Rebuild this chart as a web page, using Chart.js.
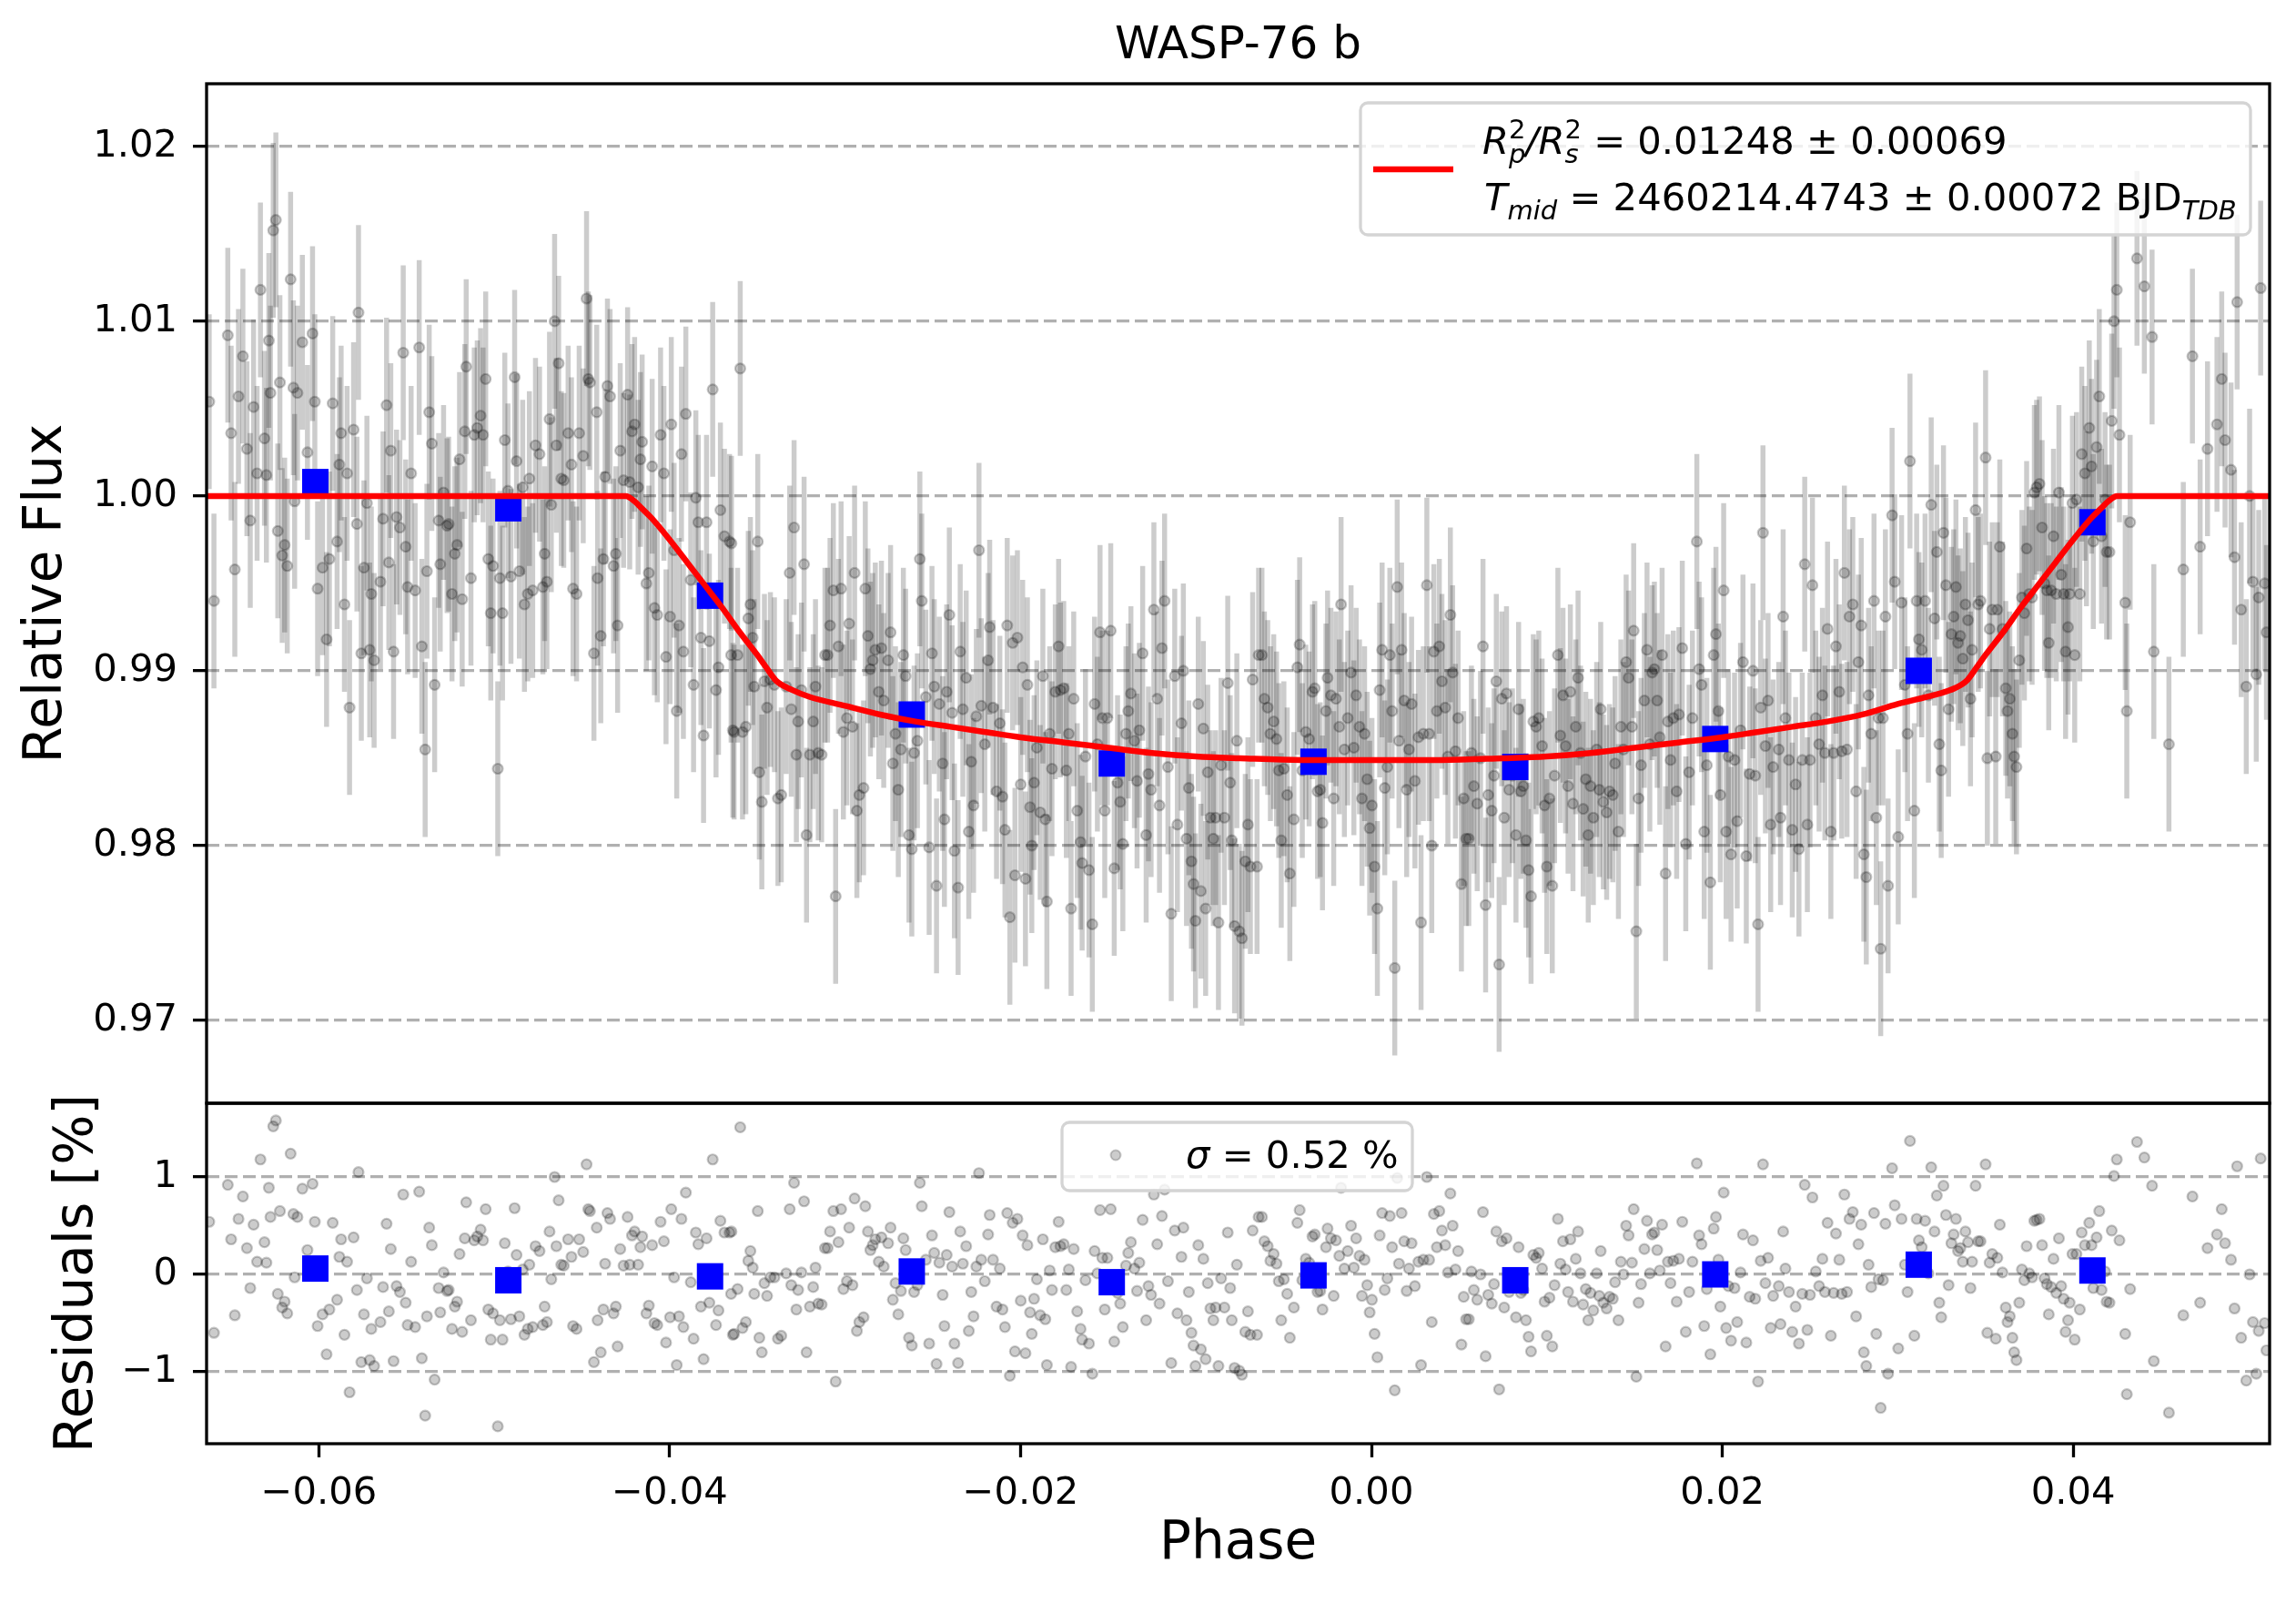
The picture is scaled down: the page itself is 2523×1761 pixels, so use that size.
<!DOCTYPE html>
<html>
<head>
<meta charset="utf-8">
<title>WASP-76 b</title>
<script src="https://cdn.jsdelivr.net/npm/chart.js@4.4.1/dist/chart.umd.min.js"></script>
<style>
  html, body { margin: 0; padding: 0; background: #fff; }
  #wrap { position: relative; width: 2523px; height: 1761px; }
  canvas { position: absolute; left: 0; }
  #top { top: 0; width: 2523px; height: 1230px; }
  #bottom { top: 1190px; width: 2523px; height: 571px; }
</style>
</head>
<body>
<div id="wrap">
  <canvas id="top" width="2523" height="1230"></canvas>
  <canvas id="bottom" width="2523" height="571"></canvas>
</div>
<script>
// Light curve values (phase, relative flux, residual in %)
const phase = [
  -0.06625,-0.06598,-0.06519,-0.0650,-0.06479,-0.06458,-0.06433,-0.0641,-0.06391,-0.06372,
  -0.06352,-0.06333,-0.0631,-0.06299,-0.06285,-0.06276,-0.0626,-0.06245,-0.06234,-0.06222,
  -0.06209,-0.06195,-0.0618,-0.06161,-0.06145,-0.06138,-0.06122,-0.06094,-0.06065,-0.06036,
  -0.06023,-0.06007,-0.05979,-0.05956,-0.0594,-0.05921,-0.05896,-0.05883,-0.05873,-0.05854,
  -0.05839,-0.05825,-0.05802,-0.05783,-0.05774,-0.05758,-0.05743,-0.05726,-0.0571,-0.05701,
  -0.05685,-0.05649,-0.05634,-0.05614,-0.05601,-0.0559,-0.05574,-0.05557,-0.05538,-0.05519,
  -0.05505,-0.05494,-0.05474,-0.05451,-0.05428,-0.05413,-0.05394,-0.05384,-0.05371,-0.05356,
  -0.0534,-0.05317,-0.05308,-0.05289,-0.05269,-0.0526,-0.05241,-0.05225,-0.05212,-0.05198,
  -0.05183,-0.05168,-0.0516,-0.05133,-0.05114,-0.05097,-0.05078,-0.05064,-0.05049,-0.05034,
  -0.0502,-0.05007,-0.0498,-0.04968,-0.04953,-0.0494,-0.04922,-0.04905,-0.04884,-0.04873,
  -0.04857,-0.04838,-0.04828,-0.04809,-0.048,-0.04781,-0.04765,-0.04742,-0.04723,-0.04713,
  -0.047,-0.04685,-0.04675,-0.04656,-0.04646,-0.04633,-0.04618,-0.04604,-0.04579,-0.0456,
  -0.04551,-0.04531,-0.04516,-0.04493,-0.04474,-0.04464,-0.04455,-0.04432,-0.04416,-0.04411,
  -0.04393,-0.04378,-0.04368,-0.04355,-0.0434,-0.0432,-0.04307,-0.04297,-0.04282,-0.04263,
  -0.0424,-0.04228,-0.04215,-0.042,-0.0418,-0.04167,-0.04157,-0.04133,-0.04119,-0.041,
  -0.04087,-0.04071,-0.04052,-0.04033,-0.04021,-0.03998,-0.03991,-0.03975,-0.0396,-0.03947,
  -0.03933,-0.03922,-0.03908,-0.0388,-0.03864,-0.03851,-0.03837,-0.03822,-0.03807,-0.0379,
  -0.03774,-0.03755,-0.03736,-0.03722,-0.03711,-0.03688,-0.03659,-0.0365,-0.0364,
  -0.03648,-0.03633,-0.03613,-0.03598,-0.03585,-0.03566,-0.03552,-0.0354,-0.03527,-0.03518,
  -0.03498,-0.03489,-0.03475,-0.0346,-0.03445,-0.03426,-0.03403,-0.03383,-0.03364,-0.03336,
  -0.03316,-0.03307,-0.03291,-0.03278,-0.03268,-0.03249,-0.03234,-0.0322,-0.03201,-0.03182,
  -0.03169,-0.03153,-0.03134,-0.03115,-0.031,-0.03086,-0.03067,-0.03054,-0.03038,-0.03023,
  -0.0301,-0.0299,-0.02977,-0.02958,-0.02946,-0.02933,-0.02919,-0.02895,-0.02885,-0.0287,
  -0.02856,-0.02843,-0.02828,-0.02808,-0.02793,-0.0278,-0.02755,-0.02741,-0.02728,-0.02713,
  -0.02697,-0.02682,-0.02668,-0.02655,-0.02636,-0.0262,-0.02607,-0.02588,-0.02574,-0.02563,
  -0.0254,-0.02521,-0.02505,-0.02492,-0.02479,-0.02463,-0.02444,-0.02434,-0.02421,-0.02406,
  -0.0239,-0.02377,-0.02356,-0.02344,-0.02329,-0.0231,-0.02295,-0.02281,-0.02268,-0.02252,
  -0.02237,-0.02224,-0.02204,-0.02185,-0.02176,-0.02157,-0.02137,-0.02118,-0.02103,-0.02089,
  -0.02076,-0.02061,-0.02045,-0.02032,-0.02018,-0.01999,-0.01988,-0.01972,-0.01961,-0.01946,
  -0.01936,-0.01923,-0.01907,-0.01888,-0.01873,-0.01859,-0.0185,-0.01834,-0.01821,-0.01802,
  -0.01783,-0.01773,-0.01754,-0.01739,-0.01725,-0.01712,-0.01697,-0.01677,-0.01658,-0.01649,
  -0.0163,-0.0161,-0.01591,-0.01578,-0.01562,-0.01547,-0.01534,-0.0152,-0.01505,-0.01486,
  -0.01466,-0.01447,-0.01432,-0.01417,-0.01399,-0.01386,-0.01371,-0.01351,-0.01336,-0.01323,
  -0.01304,-0.01284,-0.01271,-0.01256,-0.0124,-0.01221,-0.01208,-0.01194,-0.01179,-0.0116,
  -0.01141,-0.01121,-0.01106,-0.01083,-0.01072,-0.01054,-0.01041,-0.01026,-0.01014,-0.01003,
  -0.00987,-0.00972,-0.00958,-0.00945,-0.00933,-0.00918,-0.00901,-0.00888,-0.00872,-0.00857,
  -0.00838,-0.00819,-0.00805,-0.00796,-0.0078,-0.00767,-0.00753,-0.00738,-0.00719,-0.00704,
  -0.0069,-0.00677,
  -0.00652,-0.00643,-0.00624,-0.0061,-0.00591,-0.00576,-0.00557,-0.00541,-0.00528,-0.00514,
  -0.00499,-0.0048,-0.00465,-0.00442,-0.00422,-0.00409,-0.00394,-0.00374,-0.00355,-0.00336,
  -0.00323,-0.00307,-0.00292,-0.00279,-0.00259,-0.0025,-0.00231,-0.00215,-0.00202,-0.00183,
  -0.00173,-0.00154,-0.00135,-0.00116,-0.0010,-0.00087,-0.00068,-0.00054,-0.00039,-0.00024,
  -0.0001,0.00003,0.00018,0.00034,0.00047,0.00061,0.00076,0.00091,0.00105,0.00118,
  0.00133,0.00147,0.00157,0.00172,0.00187,0.00201,0.00214,0.00229,0.00248,0.00268,
  0.00283,0.00296,0.00316,0.00329,0.00344,0.00356,0.00373,0.00387,0.00402,0.00421,
  0.00436,0.0045,0.00463,0.00479,0.00494,0.00513,0.00526,0.0054,0.00555,0.0057,
  0.00584,0.00603,0.00622,0.00636,0.00651,0.00666,0.00686,0.00699,0.00712,0.00728,
  0.00743,0.00757,0.0077,0.00785,0.00804,0.00824,0.00839,0.00852,0.00866,0.00881,
  0.00896,0.0091,0.00923,0.00939,0.00954,0.00973,0.00987,0.0100,0.01015,0.01031,
  0.01044,0.01063,0.01077,0.01092,0.01107,0.01121,0.01134,0.01149,0.01165,0.01178,
  0.01192,0.01207,0.01222,0.01236,0.01249,0.01265,0.01284,0.01299,0.01307,0.01322,
  0.01341,0.01357,0.01376,0.01389,0.01408,0.01422,0.01437,0.01452,0.01466,0.01485,
  0.01495,0.0151,0.01523,0.01537,0.01556,0.01571,0.01587,0.0160,0.01613,0.01629,
  0.01644,0.01657,0.01677,0.0169,0.01705,0.01721,0.0174,0.01753,0.01772,0.01792,
  0.01811,0.0183,0.01855,0.01868,0.01882,0.01897,0.01912,0.01932,0.01951,0.01964,
  0.01978,0.01989,0.02008,0.02022,0.02035,0.0205,0.0207,0.02085,0.02104,0.02118,
  0.02137,0.02156,0.02175,0.02188,0.02204,0.02219,0.02232,0.02246,0.02261,0.02276,
  0.0229,
  0.02322,0.02332,0.02347,0.0236,0.0238,0.02399,0.02418,0.02437,0.02456,0.0247,
  0.02485,0.025,0.02514,0.02533,0.02552,0.02571,0.02585,0.026,0.02619,0.02635,
  0.02648,0.02667,0.02681,0.02696,0.02711,0.02725,0.02744,0.02763,0.02776,0.02792,
  0.02807,0.02821,0.02834,0.02849,0.02865,0.02878,0.02891,0.02903,0.02916,0.0293,
  0.02945,0.02968,0.02983,0.03003,0.03022,0.03041,0.03056,0.0307,0.03095,0.03108,
  0.03121,0.03137,0.03156,0.03175,0.03191,0.0321,0.03223,0.03237,0.03248,0.03261,
  0.03275,0.0329,0.03306,0.03319,0.03332,0.03344,0.03357,0.03371,0.03386,0.03401,
  0.03415,0.03424,0.03444,0.03459,0.03472,0.03501,0.03511,0.03524,0.03539,0.03559,
  0.03568,0.03582,0.03597,0.03616,0.03626,0.03639,0.03654,0.03664,0.03677,0.03693,
  0.03708,0.03722,0.03735,0.0375,0.03766,0.03779,0.03792,0.03808,0.03823,0.03837,
  0.0385,0.03861,0.03875,0.03888,0.03904,0.03919,0.03932,0.03946,0.03957,0.03971,
  0.0398,0.03996,0.04009,0.04019,0.04038,0.04049,0.04067,0.04076,0.04092,0.04105,
  0.04115,0.04134,0.04149,0.04162,0.04182,0.04191,0.04207,0.0422,0.04233,0.04249,
  0.04264,0.04297,0.04306,0.04325,0.04364,0.04406,0.0445,0.0446,0.04546,0.04628,
  0.0468,0.04724,0.04766,0.0482,0.04847,0.04866,0.049,0.0492,0.04935,0.04958,
  0.04987,0.05006,0.05025,0.05044,0.05058,0.05069,0.05092,0.05102
];

const flux = [
  1.0054,0.9940,1.0092,1.0036,0.9958,1.0057,1.0080,1.0027,0.9986,1.0051,
  1.0013,1.0118,1.0033,1.0012,1.0089,1.0059,1.0152,1.0158,0.9980,1.0065,
  0.9966,0.9972,0.9960,1.0124,1.0062,0.9997,1.0059,1.0088,1.0025,1.0093,
  1.0054,0.9947,0.9959,0.9918,0.9964,1.0053,0.9974,1.0018,1.0036,0.9938,
  1.0013,0.9879,1.0038,0.9984,1.0105,0.9910,0.9959,0.9996,0.9912,0.9944,
  0.9906,0.9951,0.9987,1.0052,0.9962,1.0026,0.9911,0.9988,0.9982,1.0082,
  0.9971,0.9948,1.0013,0.9946,1.0085,0.9914,0.9855,0.9957,1.0048,1.0030,
  0.9892,0.9986,0.9961,1.0002,0.9983,0.9984,0.9944,0.9967,0.9972,1.0021,
  0.9941,1.0037,1.0074,0.9953,1.0035,1.0039,1.0046,1.0035,1.0067,0.9964,
  0.9933,0.9960,0.9844,0.9953,0.9933,1.0032,1.0003,0.9954,1.0068,1.0020,
  0.9957,1.0005,0.9938,0.9944,1.0010,0.9946,1.0029,1.0024,0.9948,0.9967,
  0.9951,1.0044,0.9995,1.0100,1.0029,1.0076,1.0010,1.0009,1.0036,1.0018,
  0.9947,0.9944,1.0036,1.0023,1.0113,1.0067,1.0065,0.9910,1.0048,0.9953,
  0.9920,0.9964,1.0011,1.0063,1.0057,0.9960,0.9967,0.9926,1.0026,1.0009,
  1.0058,1.0008,1.0037,1.0041,1.0005,1.0021,1.0031,0.9950,0.9956,1.0017,
  0.9936,0.9932,1.0035,1.0013,0.9908,0.9931,1.0041,0.9969,0.9877,0.9926,
  1.0024,0.9911,1.0047,0.9952,0.9892,0.9999,0.9985,0.9919,0.9863,0.9985,
  0.9917,1.0061,0.9889,0.9902,0.9992,0.9977,0.9974,0.9909,0.9866,
  0.9973,0.9865,0.9909,1.0073,0.9865,0.9868,0.9930,0.9938,0.9919,0.9891,
  0.9974,0.9842,0.9825,0.9894,0.9879,0.9895,0.9892,0.9827,0.9829,0.9891,
  0.9956,0.9878,0.9982,0.9852,0.9871,0.9889,0.9961,0.9806,0.9852,0.9871,
  0.9891,0.9853,0.9852,0.9909,0.9909,0.9926,0.9946,0.9771,0.9914,0.9947,
  0.9865,0.9873,0.9927,0.9868,0.9956,0.9820,0.9829,0.9833,0.9947,0.9920,
  0.9901,0.9906,0.9912,0.9888,0.9913,0.9883,0.9906,0.9922,0.9847,0.9864,
  0.9832,0.9855,0.9909,0.9897,0.9806,0.9798,0.9853,0.9860,0.9964,0.9940,
  0.9885,0.9799,0.9910,0.9891,0.9777,0.9881,0.9847,0.9815,0.9888,0.9932,
  0.9876,0.9797,0.9776,0.9911,0.9878,0.9896,0.9808,0.9848,0.9823,0.9874,
  0.9969,0.9880,0.9858,0.9906,0.9925,0.9879,0.9831,0.9870,0.9828,0.9809,
  0.9926,0.9759,0.9916,0.9783,0.9919,0.9835,0.9902,0.9781,0.9892,0.9822,
  0.9800,0.9836,0.9856,0.9819,0.9897,0.9815,0.9768,0.9864,0.9844,0.9888,
  0.9914,0.9889,0.9890,0.9843,0.9864,0.9764,0.9884,0.9820,0.9802,0.9790,
  0.9851,0.9786,0.9755,0.9881,0.9858,0.9922,0.9873,0.9820,0.9873,0.9923,
  0.9787,0.9836,0.9825,0.9801,0.9864,0.9877,0.9887,0.9860,0.9837,0.9866,
  0.9910,0.9806,0.9841,0.9832,0.9935,0.9884,0.9823,0.9913,0.9940,0.9845,
  0.9761,0.9897,0.9812,0.9870,0.9900,0.9804,0.9833,0.9791,0.9778,0.9757,
  0.9881,0.9774,0.9867,0.9764,0.9842,0.9816,0.9804,0.9816,0.9756,0.9846,
  0.9816,0.9893,0.9836,0.9803,0.9754,0.9860,0.9751,0.9747,0.9791,0.9812,
  0.9788,0.9895,
  0.9788,0.9909,0.9909,0.9884,0.9879,0.9864,0.9871,0.9861,0.9843,0.9803,
  0.9844,0.9829,0.9784,0.9815,0.9902,0.9915,0.9843,0.9865,0.9861,0.9888,
  0.9890,0.9831,0.9832,0.9813,0.9877,0.9896,0.9886,0.9827,0.9884,0.9868,
  0.9938,0.9855,0.9873,0.9899,0.9856,0.9886,0.9868,0.9827,0.9864,0.9838,
  0.9810,0.9823,0.9788,0.9764,0.9889,0.9912,0.9833,0.9845,0.9909,0.9877,
  0.9730,0.9948,0.9860,0.9912,0.9883,0.9832,0.9855,0.9881,0.9837,0.9862,
  0.9756,0.9864,0.9949,0.9864,0.9800,0.9911,0.9877,0.9914,0.9894,0.9879,
  0.9851,0.9932,0.9899,0.9854,0.9873,0.9778,0.9827,0.9804,0.9804,0.9853,
  0.9834,0.9824,0.9850,0.9914,0.9766,0.9829,0.9820,0.9840,0.9894,0.9732,
  0.9884,0.9816,0.9887,0.9832,0.9840,0.9806,0.9878,0.9831,0.9834,0.9803,
  0.9786,0.9771,0.9871,0.9868,0.9873,0.9857,0.9823,0.9788,0.9827,0.9777,
  0.9840,0.9909,0.9863,0.9886,0.9857,0.9834,0.9888,0.9824,0.9868,0.9896,
  0.9853,0.9821,0.9838,0.9806,0.9834,0.9816,0.9855,0.9832,0.9878,0.9825,
  0.9819,0.9831,0.9829,0.9847,0.9808,0.9868,0.9855,0.9905,0.9896,0.9868,
  0.9923,0.9751,0.9827,0.9846,0.9883,0.9912,0.9858,0.9899,0.9901,0.9883,
  0.9862,0.9909,0.9784,0.9871,0.9849,0.9873,0.9831,0.9875,0.9913,0.9801,
  0.9842,0.9873,0.9974,0.9901,0.9892,0.9808,0.9846,0.9779,0.9909,0.9921,
  0.9877,0.9829,0.9946,0.9808,0.9851,0.9795,0.9849,0.9814,0.9866,0.9905,
  0.9794,0.9841,0.9900,0.9840,0.9755,0.9879,0.9979,0.9857,0.9883,0.9812,
  0.9845,
  0.9855,0.9816,0.9931,0.9873,0.9849,0.9809,0.9835,0.9798,0.9849,0.9961,
  0.9812,0.9849,0.9949,0.9873,0.9858,0.9886,0.9853,0.9924,0.9808,0.9853,
  0.9914,0.9888,0.9854,0.9956,0.9855,0.9931,0.9938,0.9831,0.9905,0.9926,
  0.9795,0.9782,0.9886,0.9864,0.9940,0.9816,0.9873,0.9741,0.9873,0.9931,
  0.9777,0.9989,0.9951,0.9805,0.9939,0.9892,0.9864,1.0020,0.9820,0.9940,
  0.9918,0.9912,0.9940,0.9886,0.9995,0.9930,0.9968,0.9858,0.9843,0.9979,
  0.9949,0.9878,0.9921,0.9931,0.9948,0.9916,0.9920,0.9907,0.9938,0.9929,
  0.9884,0.9912,0.9992,0.9938,0.9940,1.0022,0.9850,0.9924,0.9935,0.9851,
  0.9935,0.9971,0.9924,0.9890,0.9877,0.9884,0.9864,0.9851,0.9845,0.9906,
  0.9942,0.9933,0.9970,0.9944,0.9942,1.0002,1.0005,1.0007,0.9982,0.9950,
  0.9946,0.9916,0.9946,0.9977,0.9944,1.0002,0.9955,0.9944,0.9911,0.9925,
  0.9944,0.9996,0.9909,0.9998,0.9944,1.0024,1.0013,0.9987,1.0039,1.0017,
  0.9974,1.0028,1.0057,0.9977,0.9998,0.9968,0.9968,1.0043,1.0100,1.0118,
  1.0035,0.9939,0.9877,0.9985,1.0136,1.0120,1.0091,0.9911,0.9858,0.9958,
  1.0080,0.9971,1.0027,1.0041,1.0067,1.0032,1.0015,0.9965,1.0111,0.9935,
  0.9891,1.0000,0.9951,0.9898,0.9942,1.0119,0.9950,0.9922
];

const resid = [
  0.54,-0.60,0.92,0.36,-0.42,0.57,0.80,0.27,-0.14,0.51,
  0.13,1.18,0.33,0.12,0.89,0.59,1.52,1.58,-0.20,0.65,
  -0.34,-0.28,-0.40,1.24,0.62,-0.03,0.59,0.88,0.25,0.93,
  0.54,-0.53,-0.41,-0.82,-0.36,0.53,-0.26,0.18,0.36,-0.62,
  0.13,-1.21,0.38,-0.16,1.05,-0.90,-0.41,-0.04,-0.88,-0.56,
  -0.94,-0.49,-0.13,0.52,-0.38,0.26,-0.89,-0.12,-0.18,0.82,
  -0.29,-0.52,0.13,-0.54,0.85,-0.86,-1.45,-0.43,0.48,0.30,
  -1.08,-0.14,-0.39,0.02,-0.17,-0.16,-0.56,-0.33,-0.28,0.21,
  -0.59,0.37,0.74,-0.47,0.35,0.39,0.46,0.35,0.67,-0.36,
  -0.67,-0.40,-1.56,-0.47,-0.67,0.32,0.03,-0.46,0.68,0.20,
  -0.43,0.05,-0.62,-0.56,0.10,-0.54,0.29,0.24,-0.52,-0.33,
  -0.49,0.44,-0.05,1.00,0.29,0.76,0.10,0.09,0.36,0.18,
  -0.53,-0.56,0.36,0.23,1.13,0.67,0.65,-0.90,0.48,-0.47,
  -0.80,-0.36,0.11,0.63,0.57,-0.40,-0.33,-0.74,0.26,0.09,
  0.59,0.10,0.40,0.44,0.10,0.28,0.39,-0.40,-0.32,0.30,
  -0.50,-0.52,0.54,0.34,-0.70,-0.44,0.67,-0.03,-0.93,-0.43,
  0.57,-0.54,0.84,-0.08,-0.66,0.43,0.31,-0.33,-0.87,0.37,
  -0.29,1.18,-0.52,-0.37,0.55,0.43,0.43,-0.20,-0.62,
  0.44,-0.61,-0.15,1.51,-0.55,-0.49,0.14,0.24,0.07,-0.20,
  0.65,-0.65,-0.80,-0.09,-0.22,-0.03,-0.03,-0.66,-0.63,0.01,
  0.67,-0.11,0.94,-0.36,-0.16,0.02,0.75,-0.80,-0.33,-0.13,
  0.07,-0.30,-0.31,0.27,0.27,0.44,0.65,-1.10,0.33,0.67,
  -0.15,-0.07,0.48,-0.11,0.78,-0.58,-0.49,-0.44,0.70,0.44,
  0.25,0.30,0.36,0.13,0.38,0.08,0.32,0.48,-0.26,-0.09,
  -0.41,-0.17,0.37,0.25,-0.65,-0.73,-0.18,-0.11,0.94,0.70,
  0.15,-0.71,0.40,0.22,-0.92,0.12,-0.21,-0.53,0.20,0.64,
  0.08,-0.71,-0.91,0.44,0.11,0.29,-0.58,-0.18,-0.43,0.08,
  1.04,0.15,-0.07,0.41,0.61,0.15,-0.33,0.06,-0.36,-0.54,
  0.63,-1.04,0.53,-0.79,0.57,-0.27,0.40,-0.81,0.30,-0.39,
  -0.61,-0.25,-0.05,-0.42,0.36,-0.46,-0.93,0.04,-0.16,0.28,
  0.54,0.29,0.31,-0.16,0.05,-0.95,0.26,-0.38,-0.56,-0.67,
  -0.06,-0.71,-1.02,0.24,0.01,0.66,0.17,-0.36,0.17,0.67,
  -0.69,-0.19,-0.30,-0.54,0.09,0.22,0.33,0.06,-0.17,0.12,
  0.56,-0.47,-0.12,-0.21,0.82,0.31,-0.30,0.60,0.87,-0.07,
  -0.91,0.45,-0.40,0.18,0.48,-0.47,-0.18,-0.60,-0.73,-0.94,
  0.30,-0.77,0.16,-0.87,-0.09,-0.35,-0.47,-0.34,-0.94,-0.04,
  -0.34,0.43,-0.14,-0.47,-0.96,0.10,-0.99,-1.03,-0.59,-0.38,
  -0.62,0.45,
  -0.62,0.59,0.59,0.34,0.29,0.14,0.21,0.11,-0.07,-0.47,
  -0.05,-0.20,-0.65,-0.34,0.53,0.66,-0.06,0.16,0.12,0.39,
  0.41,-0.18,-0.17,-0.36,0.28,0.47,0.37,-0.22,0.35,0.19,
  0.89,0.06,0.24,0.50,0.07,0.37,0.19,-0.22,0.15,-0.11,
  -0.39,-0.26,-0.61,-0.85,0.40,0.63,-0.16,-0.04,0.60,0.28,
  -1.19,0.99,0.11,0.63,0.34,-0.17,0.06,0.32,-0.12,0.13,
  -0.93,0.15,1.00,0.15,-0.49,0.62,0.28,0.65,0.45,0.30,
  0.02,0.83,0.50,0.05,0.24,-0.72,-0.23,-0.46,-0.46,0.03,
  -0.16,-0.26,0.00,0.64,-0.84,-0.21,-0.30,-0.10,0.44,-1.18,
  0.34,-0.34,0.37,-0.18,-0.10,-0.44,0.28,-0.19,-0.16,-0.47,
  -0.64,-0.79,0.20,0.17,0.22,0.06,-0.28,-0.63,-0.24,-0.74,
  -0.11,0.57,0.11,0.34,0.05,-0.18,0.36,-0.28,0.16,0.44,
  0.01,-0.31,-0.15,-0.47,-0.19,-0.37,0.01,-0.22,0.24,-0.29,
  -0.35,-0.23,-0.25,-0.08,-0.47,0.13,0.00,0.50,0.40,0.12,
  0.67,-1.05,-0.29,-0.10,0.26,0.55,0.01,0.41,0.43,0.25,
  0.04,0.51,-0.74,0.13,-0.09,0.14,-0.28,0.16,0.54,-0.59,
  -0.18,0.13,1.14,0.40,0.31,-0.53,-0.15,-0.82,0.47,0.59,
  0.15,-0.33,0.84,-0.55,-0.12,-0.68,-0.14,-0.49,0.02,0.41,
  -0.70,-0.23,0.35,-0.25,-1.10,0.14,1.13,-0.09,0.17,-0.55,
  -0.22,
  -0.12,-0.51,0.44,0.06,-0.18,-0.59,-0.33,-0.71,-0.20,0.92,
  -0.57,-0.21,0.79,0.03,-0.12,0.16,-0.18,0.53,-0.63,-0.19,
  0.42,0.15,-0.20,0.82,-0.18,0.57,0.64,-0.43,0.31,0.51,
  -0.80,-0.94,0.10,-0.13,0.63,-0.61,-0.05,-1.37,-0.06,0.52,
  -1.02,1.09,0.71,-0.76,0.57,0.10,-0.18,1.37,-0.63,0.57,
  0.35,0.28,0.55,0.01,1.10,0.44,0.81,-0.29,-0.44,0.91,
  0.61,-0.11,0.32,0.41,0.57,0.24,0.27,0.13,0.44,0.33,
  -0.14,0.13,0.91,0.34,0.34,1.13,-0.60,0.12,0.21,-0.66,
  0.17,0.51,0.02,-0.34,-0.49,-0.43,-0.65,-0.80,-0.88,-0.29,
  0.05,-0.06,0.29,0.01,-0.03,0.55,0.56,0.57,0.30,-0.04,
  -0.10,-0.41,-0.13,0.16,-0.19,0.37,-0.12,-0.25,-0.59,-0.47,
  -0.29,0.21,-0.67,0.21,-0.36,0.43,0.30,0.03,0.53,0.30,
  -0.14,0.38,0.65,-0.16,0.03,-0.28,-0.29,0.45,1.01,1.18,
  0.35,-0.61,-1.23,-0.15,1.36,1.20,0.91,-0.89,-1.42,-0.42,
  0.80,-0.29,0.27,0.41,0.67,0.32,0.15,-0.35,1.11,-0.65,
  -1.09,0.00,-0.49,-1.02,-0.58,1.19,-0.50,-0.78
];

// typical 1-sigma flux error (half length of the grey bars)
const fluxErr = 0.0050;

// transit model (red line)
const modelPhase = [-0.0664,-0.0425,-0.0420,-0.0416,-0.0410,-0.0400,-0.0390,-0.0380,-0.0370,-0.0360,
  -0.0350,-0.0345,-0.0339,-0.0330,-0.0320,-0.0300,-0.0280,-0.0260,-0.0240,-0.0220,
  -0.0200,-0.0175,-0.0150,-0.0125,-0.0100,-0.0075,-0.0040,0.0040,0.0075,0.0100,
  0.0125,0.0150,0.0175,0.0200,0.0220,0.0240,0.0260,0.0280,0.0300,0.0320,
  0.0330,0.0339,0.0345,0.0350,0.0360,0.0370,0.0380,0.0390,0.0400,0.0410,
  0.0416,0.0420,0.0425,0.0512];
const modelFlux = [1.0000,1.0000,0.9997,0.9993,0.9987,0.9975,0.9962,0.9949,0.9936,0.9922,
  0.9909,0.9902,0.9894,0.9889,0.9885,0.9880,0.9875,0.9871,0.9868,0.9865,
  0.9862,0.9859,0.9856,0.9853,0.9851,0.9850,0.9849,0.9849,0.9850,0.9851,
  0.9853,0.9856,0.9859,0.9862,0.9865,0.9868,0.9871,0.9875,0.9881,0.9886,
  0.9889,0.9894,0.9902,0.9909,0.9922,0.9936,0.9949,0.9962,0.9975,0.9987,
  0.9993,0.9997,1.0000,1.0000];

// binned points (blue squares)
const binPhase = [-0.0602,-0.0492,-0.0377,-0.0262,-0.0148,-0.0033,0.0082,0.0196,0.0312,0.0411];
const binFlux = [1.0008,0.9993,0.9943,0.9875,0.9847,0.9848,0.9845,0.9861,0.9900,0.9985];
const binResid = [0.06,-0.06,-0.02,0.03,-0.08,-0.01,-0.06,0.00,0.10,0.04];

// axes
const phaseTicks = [-0.06,-0.04,-0.02,0.00,0.02,0.04];
const fluxTicks = [0.97,0.98,0.99,1.00,1.01,1.02];
const residTicks = [-1,0,1];
const phaseRange = [-0.0664, 0.0512];
const fluxRange = [0.96526, 1.02359];
const residRange = [-1.738, 1.757];

const FONT = '"DejaVu Sans", sans-serif';
Chart.defaults.font.family = FONT;
Chart.defaults.color = '#000';

const minus = v => (v < 0 ? '\u2212' : '') + Math.abs(v);

function roundBox(ctx, x, y, w, h, r) {
  ctx.beginPath();
  ctx.moveTo(x + r, y);
  ctx.arcTo(x + w, y, x + w, y + h, r);
  ctx.arcTo(x + w, y + h, x, y + h, r);
  ctx.arcTo(x, y + h, x, y, r);
  ctx.arcTo(x, y, x + w, y, r);
  ctx.closePath();
  ctx.fillStyle = 'rgba(255,255,255,0.8)';
  ctx.fill();
  ctx.strokeStyle = '#d4d4d4';
  ctx.lineWidth = 3.3;
  ctx.stroke();
}

// fixed axis box sizes, and no extra label overhang padding, so both panels line up
const fixWidth = s => { s.width = 227; s.paddingTop = 0; s.paddingBottom = 0; };
const fixHeight = s => { s.height = 175; s.paddingLeft = 0; s.paddingRight = 0; };

const frame = {
  id: 'frame',
  afterDraw(chart) {
    const { ctx, chartArea: a } = chart;
    ctx.save();
    ctx.strokeStyle = '#000';
    ctx.lineWidth = 3.3;
    ctx.strokeRect(a.left, a.top, a.right - a.left, a.bottom - a.top);
    ctx.restore();
  }
};

const errorBars = {
  id: 'errorBars',
  beforeDatasetsDraw(chart) {
    const { ctx, chartArea: a, scales: { x, y } } = chart;
    ctx.save();
    ctx.beginPath();
    ctx.rect(a.left, a.top, a.right - a.left, a.bottom - a.top);
    ctx.clip();
    ctx.strokeStyle = 'rgba(0,0,0,0.2)';
    ctx.lineWidth = 5.5;
    phase.forEach((p, i) => {
      const px = x.getPixelForValue(p);
      ctx.beginPath();
      ctx.moveTo(px, y.getPixelForValue(flux[i] - fluxErr));
      ctx.lineTo(px, y.getPixelForValue(flux[i] + fluxErr));
      ctx.stroke();
    });
    ctx.restore();
  }
};

const fluxLegend = {
  id: 'fluxLegend',
  afterDraw(chart) {
    const ctx = chart.ctx;
    ctx.save();
    roundBox(ctx, 1495, 113, 978, 145, 8);
    ctx.strokeStyle = '#ff0000';
    ctx.lineWidth = 6.5;
    ctx.beginPath();
    ctx.moveTo(1509, 186);
    ctx.lineTo(1597, 186);
    ctx.stroke();

    ctx.fillStyle = '#000';
    ctx.textBaseline = 'alphabetic';
    ctx.textAlign = 'left';
    const big = 41.7, small = 29;
    const reg = `${big}px ${FONT}`, it = `italic ${big}px ${FONT}`;
    const sReg = `${small}px ${FONT}`, sIt = `italic ${small}px ${FONT}`;
    let cx, by;
    const put = (txt, font, dy = 0, move = true) => {
      ctx.font = font;
      ctx.fillText(txt, cx, by + dy);
      const w = ctx.measureText(txt).width;
      if (move) cx += w;
      return w;
    };
    // R_p^2 / R_s^2
    cx = 1629; by = 169;
    put('R', it);
    cx += Math.max(put('2', sReg, -17, false), put('p', sIt, 10, false));
    put('/', it);
    put('R', it);
    cx += Math.max(put('2', sReg, -17, false), put('s', sIt, 10, false));
    put(' = 0.01248 \u00b1 0.00069', reg);
    // T_mid
    cx = 1631; by = 231;
    put('T', it);
    put('mid', sIt, 10);
    put(' = 2460214.4743 \u00b1 0.00072 BJD', reg);
    put('TDB', sIt, 10);
    ctx.restore();
  }
};

const residLegend = {
  id: 'residLegend',
  afterDraw(chart) {
    const ctx = chart.ctx;
    ctx.save();
    roundBox(ctx, 1167, 43, 385, 75, 8);
    ctx.beginPath();
    ctx.arc(1226, 79, 5.5, 0, Math.PI * 2);
    ctx.fillStyle = 'rgba(0,0,0,0.2)';
    ctx.fill();
    ctx.strokeStyle = 'rgba(0,0,0,0.2)';
    ctx.lineWidth = 2;
    ctx.stroke();
    ctx.fillStyle = '#000';
    ctx.textBaseline = 'alphabetic';
    ctx.font = `italic 41.7px ${FONT}`;
    ctx.fillText('\u03c3', 1303, 93);
    const w = ctx.measureText('\u03c3').width;
    ctx.font = `41.7px ${FONT}`;
    ctx.fillText(' = 0.52 %', 1303 + w, 93);
    ctx.restore();
  }
};

const yGrid = {
  color: '#b0b0b0', lineWidth: 3.3,
  tickLength: 15, tickColor: '#000', tickWidth: 3.3, tickBorderDash: []
};
const noBorder = { display: false, dash: [14, 6] };
const pointStyle = {
  pointRadius: 5.5, pointHoverRadius: 5.5,
  backgroundColor: 'rgba(0,0,0,0.2)', borderColor: 'rgba(0,0,0,0.22)', borderWidth: 2.2
};
const binStyle = {
  pointStyle: 'rect', pointRadius: 20.5, pointHoverRadius: 20.5,
  backgroundColor: '#0000ff', borderColor: '#0000ff', borderWidth: 0
};

new Chart(document.getElementById('top'), {
  type: 'scatter',
  data: {
    datasets: [
      {
        label: 'model',
        data: modelPhase.map((p, i) => ({ x: p, y: modelFlux[i] })),
        showLine: true, borderColor: '#ff0000', borderWidth: 6.5,
        pointRadius: 0, pointHoverRadius: 0, cubicInterpolationMode: 'monotone',
        order: 1
      },
      { label: 'binned', data: binPhase.map((p, i) => ({ x: p, y: binFlux[i] })), ...binStyle, order: 2 },
      { label: 'flux', data: phase.map((p, i) => ({ x: p, y: flux[i] })), ...pointStyle, order: 3 }
    ]
  },
  options: {
    responsive: false, animation: false, devicePixelRatio: 1,
    layout: { padding: { left: 0, right: 29, top: 0, bottom: 18 }, autoPadding: false },
    plugins: {
      legend: { display: false }, tooltip: { enabled: false },
      title: {
        display: true, text: 'WASP-76 b', fullSize: false, color: '#000',
        font: { size: 50, weight: 'normal' }, padding: { top: 21, bottom: 11 }
      }
    },
    scales: {
      x: { type: 'linear', display: false, min: phaseRange[0], max: phaseRange[1] },
      y: {
        type: 'linear', min: fluxRange[0], max: fluxRange[1],
        afterBuildTicks: s => { s.ticks = fluxTicks.map(v => ({ value: v })); },
        afterFit: fixWidth,
        ticks: { callback: v => v.toFixed(2), font: { size: 41.7 }, padding: 17, color: '#000' },
        grid: yGrid, border: noBorder,
        title: { display: true, text: 'Relative Flux', font: { size: 58 }, padding: { top: 17, bottom: 0 }, color: '#000' }
      }
    }
  },
  plugins: [errorBars, frame, fluxLegend]
});

new Chart(document.getElementById('bottom'), {
  type: 'scatter',
  data: {
    datasets: [
      { label: 'binned', data: binPhase.map((p, i) => ({ x: p, y: binResid[i] })), ...binStyle, order: 1 },
      { label: 'residuals', data: phase.map((p, i) => ({ x: p, y: resid[i] })), ...pointStyle, order: 2 }
    ]
  },
  options: {
    responsive: false, animation: false, devicePixelRatio: 1,
    layout: { padding: { left: 0, right: 29, top: 22, bottom: 0 }, autoPadding: false },
    plugins: { legend: { display: false }, tooltip: { enabled: false } },
    scales: {
      x: {
        type: 'linear', min: phaseRange[0], max: phaseRange[1],
        afterBuildTicks: s => { s.ticks = phaseTicks.map(v => ({ value: v })); },
        afterFit: fixHeight,
        ticks: {
          callback: v => (v < 0 ? '\u2212' : '') + Math.abs(v).toFixed(2),
          font: { size: 41.7 }, padding: 15, color: '#000', autoSkip: false, maxRotation: 0, minRotation: 0
        },
        grid: { drawOnChartArea: false, drawTicks: true, tickLength: 15, tickColor: '#000', tickWidth: 3.3, tickBorderDash: [] },
        border: { display: false },
        title: { display: true, text: 'Phase', font: { size: 58 }, padding: { top: 0, bottom: 29 }, color: '#000' }
      },
      y: {
        type: 'linear', min: residRange[0], max: residRange[1],
        afterBuildTicks: s => { s.ticks = residTicks.map(v => ({ value: v })); },
        afterFit: fixWidth,
        ticks: { callback: v => minus(v), font: { size: 41.7 }, padding: 17, color: '#000' },
        grid: yGrid, border: noBorder,
        title: { display: true, text: 'Residuals [%]', font: { size: 58 }, padding: { top: 51, bottom: 0 }, color: '#000' }
      }
    }
  },
  plugins: [frame, residLegend]
});
</script>
</body>
</html>
